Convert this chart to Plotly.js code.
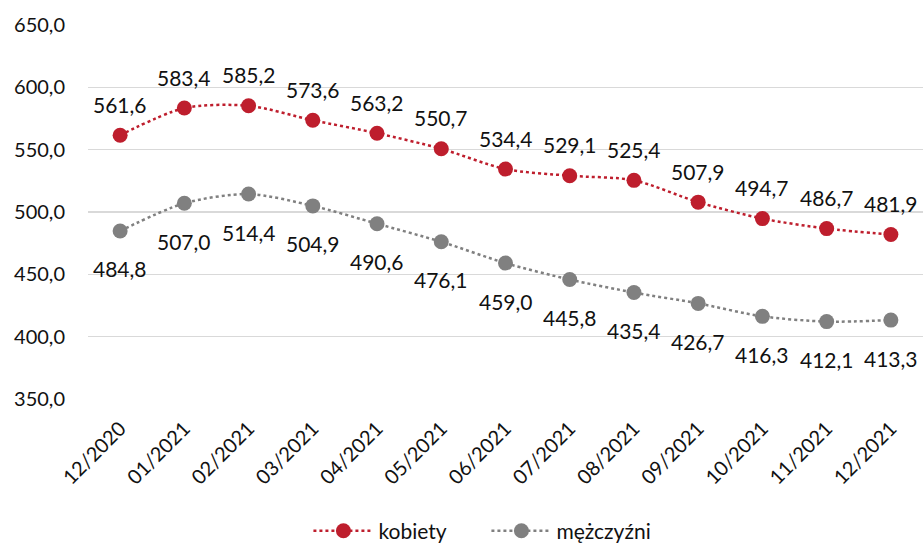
<!DOCTYPE html>
<html><head><meta charset="utf-8">
<script src="https://cdn.plot.ly/plotly-3.0.1.min.js"></script>
<style>body{margin:0;background:#fff}#c{width:923px;height:543px}</style>
</head><body><div id="c"></div>
<script>
const categories = ["12/2020","01/2021","02/2021","03/2021","04/2021","05/2021","06/2021","07/2021","08/2021","09/2021","10/2021","11/2021","12/2021"];
const kobiety = [561.6,583.4,585.2,573.6,563.2,550.7,534.4,529.1,525.4,507.9,494.7,486.7,481.9];
const mezczyzni = [484.8,507.0,514.4,504.9,490.6,476.1,459.0,445.8,435.4,426.7,416.3,412.1,413.3];
const seriesNames = ["kobiety","mężczyźni"];
const yTicks = [350,400,450,500,550,600,650];

const FONT = "Lato, 'Open Sans', sans-serif";
const RED = "#BE1E2D", GRAY = "#808080";
const fmt = v => v.toFixed(1).replace('.', ',');
const idx = categories.map((c,i)=>i);

const traces = [
  {x: idx, y: kobiety, name: seriesNames[0], mode: "lines+markers", line: {color: RED, width: 2.5, dash: "dot", shape: "spline", smoothing: 0.8}, marker: {color: RED, size: 15}},
  {x: idx, y: mezczyzni, name: seriesNames[1], mode: "lines+markers", line: {color: GRAY, width: 2.5, dash: "dot", shape: "spline", smoothing: 0.8}, marker: {color: GRAY, size: 15}}
];
const annotations = [];
kobiety.forEach((v,i)=>annotations.push({x:i, y:v, xref:"x", yref:"y", text: fmt(v), showarrow:false, yshift:31, font:{family:FONT,size:21,color:"#111"}}));
mezczyzni.forEach((v,i)=>annotations.push({x:i, y:v, xref:"x", yref:"y", text: fmt(v), showarrow:false, yshift:-38, font:{family:FONT,size:21,color:"#111"}}));

const layout = {
  width: 923, height: 543,
  margin: {l: 88, r: 0, t: 25, b: 144},
  paper_bgcolor: "#fff", plot_bgcolor: "#fff",
  separators: ", ",
  font: {family: FONT, size: 20, color: "#111"},
  showlegend: true,
  legend: {orientation: "h", x: 0.527, xref: "container", xanchor: "center", y: 0.022, yref: "container", yanchor: "middle", font: {family: FONT, size: 21, color: "#111"}, itemwidth: 60, entrywidth: 103},
  xaxis: {range: [-0.5, 12.5], tickmode: "array", tickvals: idx, ticktext: categories, tickangle: -45, showgrid: false, zeroline: false, showline: false, ticks: "", ticklabelstandoff: 13, fixedrange: true, automargin: false, tickfont: {family: FONT, size: 20, color: "#111"}},
  yaxis: {range: [350, 650], tickmode: "array", tickvals: yTicks, tickformat: ".1f", showgrid: true, gridcolor: "#d9d9d9", gridwidth: 1.5, zeroline: false, showline: false, ticks: "", ticklabelstandoff: 22, fixedrange: true, automargin: false, tickfont: {family: FONT, size: 20, color: "#111"}},
  annotations: annotations
};
Plotly.newPlot("c", traces, layout, {staticPlot: true, displayModeBar: false});
</script></body></html>
